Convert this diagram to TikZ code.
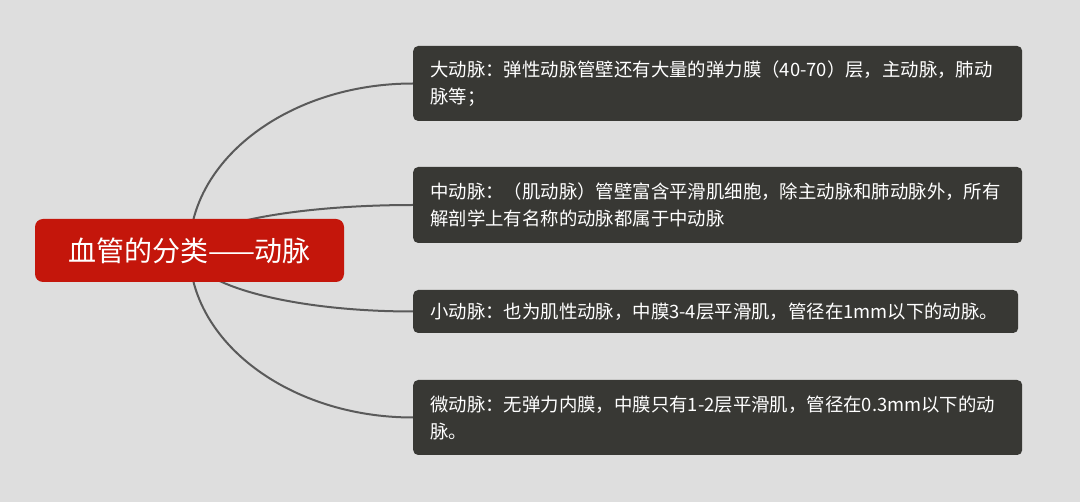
\documentclass[tikz,border=0pt]{standalone}
\usepackage{fontspec}
\setmainfont{Noto Sans CJK SC}
\usepackage{xcolor}
\usepackage{tikz}
\usetikzlibrary{calc,backgrounds}

\definecolor{bggray}{HTML}{DEDEDE}
\definecolor{rootred}{HTML}{C4160B}
\definecolor{leafgray}{HTML}{383834}
\definecolor{linegray}{HTML}{5A5A5A}

\begin{document}
\begin{tikzpicture}[
  x=1pt, y=-1pt,
  root/.style={rectangle, rounded corners=8pt, fill=rootred, text=white, font=\fontsize{28}{33}\selectfont, minimum width=309pt, minimum height=63pt, inner sep=0pt},
  leaf/.style={rectangle, rounded corners=5pt, fill=leafgray, text=white, font=\fontsize{18.4}{27}\selectfont, align=left, inner xsep=17pt, inner ysep=0pt, anchor=west},
  branch/.style={draw=linegray, line width=2pt}
]
\useasboundingbox (0,0) rectangle (1080,502);

% Centre topic
\node[root] (root) at (189.5,250.5) {血管的分类——动脉};

% Sub topics
\node[leaf, text width=575pt, minimum height=75pt] (large) at (413,83.5) {大动脉：弹性动脉管壁还有大量的弹力膜（40-70）层，主动脉，肺动\\脉等；};
\node[leaf, text width=575pt, minimum height=76pt] (medium) at (413,205) {中动脉：（肌动脉）管壁富含平滑肌细胞，除主动脉和肺动脉外，所有\\解剖学上有名称的动脉都属于中动脉};
\node[leaf, text width=571pt, minimum height=43pt] (small) at (413,311.5) {小动脉：也为肌性动脉，中膜3-4层平滑肌，管径在1mm以下的动脉。};
\node[leaf, text width=575pt, minimum height=75pt] (micro) at (413,417.5) {微动脉：无弹力内膜，中膜只有1-2层平滑肌，管径在0.3mm以下的动\\脉。};

% Background and branches
\begin{pgfonlayer}{background}
\fill[bggray] (0,0) rectangle (1080,502);
\draw[branch] (root.center) .. controls ($(root.center)!0.55!(root.center |- large.west)$) and ($(large.west)!0.55!(root.center |- large.west)$) .. (large.west);
\draw[branch] (root.center) .. controls ($(root.center)!0.55!(root.center |- medium.west)$) and ($(medium.west)!0.55!(root.center |- medium.west)$) .. (medium.west);
\draw[branch] (root.center) .. controls ($(root.center)!0.55!(root.center |- small.west)$) and ($(small.west)!0.55!(root.center |- small.west)$) .. (small.west);
\draw[branch] (root.center) .. controls ($(root.center)!0.55!(root.center |- micro.west)$) and ($(micro.west)!0.55!(root.center |- micro.west)$) .. (micro.west);
\end{pgfonlayer}

\end{tikzpicture}
\end{document}
